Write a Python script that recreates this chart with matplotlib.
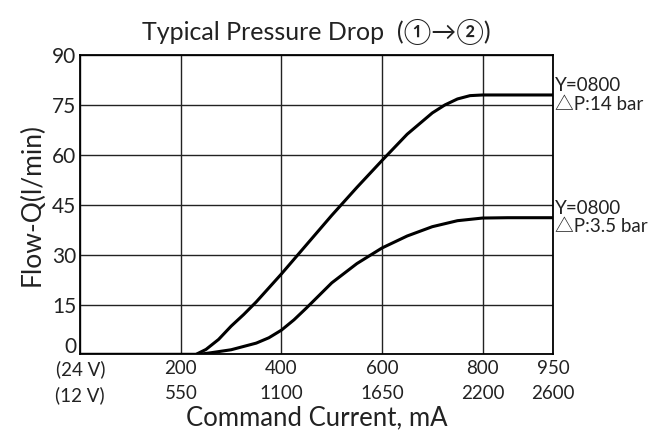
import matplotlib.pyplot as plt
from matplotlib.transforms import ScaledTranslation, blended_transform_factory

# command current (24 V, mA) vs flow (l/min)
current_14bar = [0, 230, 250, 275, 300, 325, 350, 400, 450, 500, 550, 600, 650, 700, 725, 750, 775, 800, 850, 940]
flow_14bar = [0, 0, 1.5, 4.5, 8.5, 12.0, 15.8, 24.2, 33.0, 41.8, 50.2, 58.3, 66.2, 72.6, 75.0, 76.8, 77.8, 78.0, 78.0, 78.0]

current_35bar = [0, 235, 260, 300, 350, 375, 400, 425, 450, 500, 550, 600, 650, 700, 750, 800, 850, 940]
flow_35bar = [0, 0, 0.5, 1.4, 3.4, 5.0, 7.3, 10.4, 14.0, 21.5, 27.3, 32.0, 35.6, 38.4, 40.2, 41.0, 41.1, 41.1]

x_ticks = [0, 200, 400, 600, 800, 940]
x_labels_24v = ["(24 V)", "200", "400", "600", "800", "950"]
x_labels_12v = ["(12 V)", "550", "1100", "1650", "2200", "2600"]
y_ticks = [0, 15, 30, 45, 60, 75, 90]

series_labels = ["Y=0800\n\u25b3P:14 bar", "Y=0800\n\u25b3P:3.5 bar"]

plt.rcParams['font.family'] = ['Lato', 'Noto Sans CJK JP', 'DejaVu Sans']


def main():
    fig = plt.figure(figsize=(6.69, 4.37), dpi=100)
    ax = fig.add_axes([0.120, 0.189, 0.7066, 0.685])

    ax.plot(current_14bar, flow_14bar, color='black', linewidth=2.2, solid_capstyle='butt', zorder=3)
    ax.plot(current_35bar, flow_35bar, color='black', linewidth=2.2, solid_capstyle='butt', zorder=3)

    ax.set_xlim(0, 940)
    ax.set_ylim(0, 90)
    ax.set_xticks(x_ticks)
    ax.set_xticklabels([a + "\n" + b for a, b in zip(x_labels_24v, x_labels_12v)],
                       fontsize=13.5, linespacing=1.55, color='#222222')
    ax.set_yticks(y_ticks)
    ax.set_yticklabels([str(v) for v in y_ticks], fontsize=15, color='#222222')
    ax.tick_params(length=0, pad=3)
    ax.tick_params(axis='x', pad=4)
    ax.grid(True, color='#222222', linewidth=1.0)
    for s in ax.spines.values():
        s.set_linewidth(1.3)
        s.set_color('black')

    # the "0" label sits a bit above the axis
    for lab in ax.get_yticklabels():
        if lab.get_text() == '0':
            lab.set_transform(lab.get_transform() + ScaledTranslation(0, 7 / 72, fig.dpi_scale_trans))

    ax.set_title("Typical Pressure Drop  (\u2460\u2192\u2461)", fontsize=18, pad=11, color='#222222')
    ax.set_xlabel("Command Current, mA", fontsize=18.5, labelpad=1, color='#222222')
    ax.set_ylabel("Flow-Q(l/min)", fontsize=19, labelpad=5, color='#222222')

    trans = blended_transform_factory(ax.transAxes, ax.transData)
    ax.text(1.005, flow_14bar[-1], series_labels[0], transform=trans, ha='left', va='center',
            fontsize=13.5, linespacing=1.1, color='#222222')
    ax.text(1.005, flow_35bar[-1], series_labels[1], transform=trans, ha='left', va='center',
            fontsize=13.5, linespacing=1.1, color='#222222')

    fig.savefig("out.png", dpi=100)


main()
